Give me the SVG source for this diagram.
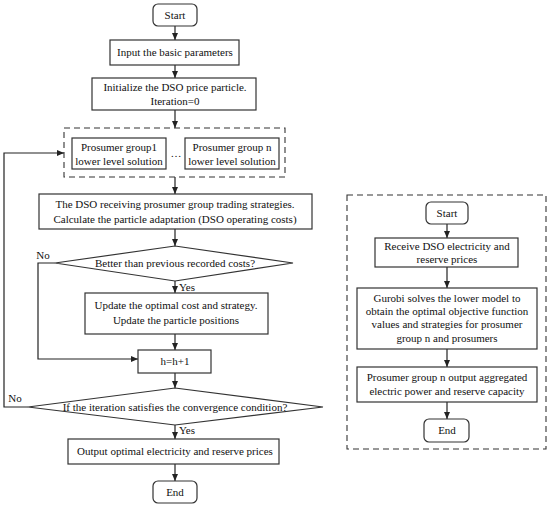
<svg xmlns="http://www.w3.org/2000/svg" width="550" height="507" viewBox="0 0 550 507">
<style>
text{font-family:"Liberation Serif","Times New Roman",serif;font-size:11px;fill:#111;text-anchor:middle}
.b{fill:#fff;stroke:#333;stroke-width:1.2}
.d{fill:none;stroke:#333;stroke-width:1.1;stroke-dasharray:6,4}
.c{fill:none;stroke:#222;stroke-width:1.2}
</style>
<defs>
<marker id="a" markerWidth="8" markerHeight="8" refX="7" refY="4" orient="auto" markerUnits="userSpaceOnUse">
<path d="M0,1 L7,4 L0,7 Z" fill="#222"/>
</marker>
</defs>
<rect width="550" height="507" fill="#fff"/>
<g id="connectors">
<path class="c" d="M175,26 V40" marker-end="url(#a)"/>
<path class="c" d="M175,65 V78" marker-end="url(#a)"/>
<path class="c" d="M175,110 V128" marker-end="url(#a)"/>
<path class="c" d="M175,177 V194" marker-end="url(#a)"/>
<path class="c" d="M175,229 V246" marker-end="url(#a)"/>
<path class="c" d="M175,281 V293" marker-end="url(#a)"/>
<path class="c" d="M175,334 V350" marker-end="url(#a)"/>
<path class="c" d="M55,263 H38 V359 H138" marker-end="url(#a)"/>
<path class="c" d="M175,373 V388" marker-end="url(#a)"/>
<path class="c" d="M28,407 H4 V153 H64" marker-end="url(#a)"/>
<path class="c" d="M175,425 V439" marker-end="url(#a)"/>
<path class="c" d="M175,464 V481" marker-end="url(#a)"/>
<path class="c" d="M447,224 V238" marker-end="url(#a)"/>
<path class="c" d="M447,267 V288" marker-end="url(#a)"/>
<path class="c" d="M447,349 V367" marker-end="url(#a)"/>
<path class="c" d="M447,402 V419" marker-end="url(#a)"/>
<text x="43" y="259">No</text>
<text x="179" y="291" style="text-anchor:start">Yes</text>
<text x="15" y="402">No</text>
<text x="179" y="434" style="text-anchor:start">Yes</text>
</g>
<g id="start"><rect class="b" x="153" y="4" width="44" height="22" rx="5"/><text x="175" y="19">Start</text></g>
<g id="input"><rect class="b" x="110" y="40" width="129" height="25"/><text x="175" y="56">Input the basic parameters</text></g>
<g id="init"><rect class="b" x="92" y="78" width="164" height="32"/><text x="175" y="91">Initialize the DSO price particle.</text><text x="175" y="105">Iteration=0</text></g>
<g id="groups">
<rect class="d" x="64" y="128" width="221" height="49"/>
<g id="group1"><rect class="b" x="72" y="138" width="94" height="31"/><text x="119" y="151">Prosumer group1</text><text x="119" y="165">lower level solution</text></g>
<text x="176" y="157">…</text>
<g id="groupn"><rect class="b" x="185" y="138" width="94" height="31"/><text x="232" y="151">Prosumer group n</text><text x="232" y="165">lower level solution</text></g>
</g>
<g id="dso"><rect class="b" x="39" y="194" width="273" height="35"/><text x="175" y="208">The DSO receiving prosumer group trading strategies.</text><text x="175" y="223">Calculate the particle adaptation (DSO operating costs)</text></g>
<g id="better"><polygon class="b" points="175,246 293,263 175,281 55,263"/><text x="175" y="267">Better than previous recorded costs?</text></g>
<g id="update"><rect class="b" x="85" y="293" width="183" height="41"/><text x="176" y="309">Update the  optimal cost and strategy.</text><text x="176" y="324">Update the particle positions</text></g>
<g id="h"><rect class="b" x="138" y="350" width="73" height="23"/><text x="175" y="365">h=h+1</text></g>
<g id="converge"><polygon class="b" points="175,388 323,407 175,425 28,407"/><text x="175" y="411">If the iteration satisfies the convergence condition?</text></g>
<g id="output"><rect class="b" x="68" y="439" width="211" height="25"/><text x="175" y="455">Output optimal electricity and reserve prices</text></g>
<g id="end"><rect class="b" x="153" y="481" width="44" height="22" rx="5"/><text x="175" y="496">End</text></g>
<g id="panel">
<rect class="d" x="347" y="195" width="199" height="254"/>
<g id="r-start"><rect class="b" x="426" y="202" width="42" height="22" rx="5"/><text x="447" y="217">Start</text></g>
<g id="r-receive"><rect class="b" x="375" y="238" width="143" height="29"/><text x="447" y="250">Receive DSO electricity and</text><text x="447" y="263">reserve prices</text></g>
<g id="r-gurobi"><rect class="b" x="357" y="288" width="180" height="61"/><text x="447" y="302">Gurobi solves the lower model to</text><text x="447" y="315">obtain the optimal objective function</text><text x="447" y="328">values and strategies for prosumer</text><text x="447" y="342">group n and prosumers</text></g>
<g id="r-output"><rect class="b" x="357" y="367" width="180" height="35"/><text x="447" y="381">Prosumer group n output aggregated</text><text x="447" y="395">electric power and reserve capacity</text></g>
<g id="r-end"><rect class="b" x="424" y="419" width="45" height="23" rx="5"/><text x="447" y="434">End</text></g>
</g>
</svg>
